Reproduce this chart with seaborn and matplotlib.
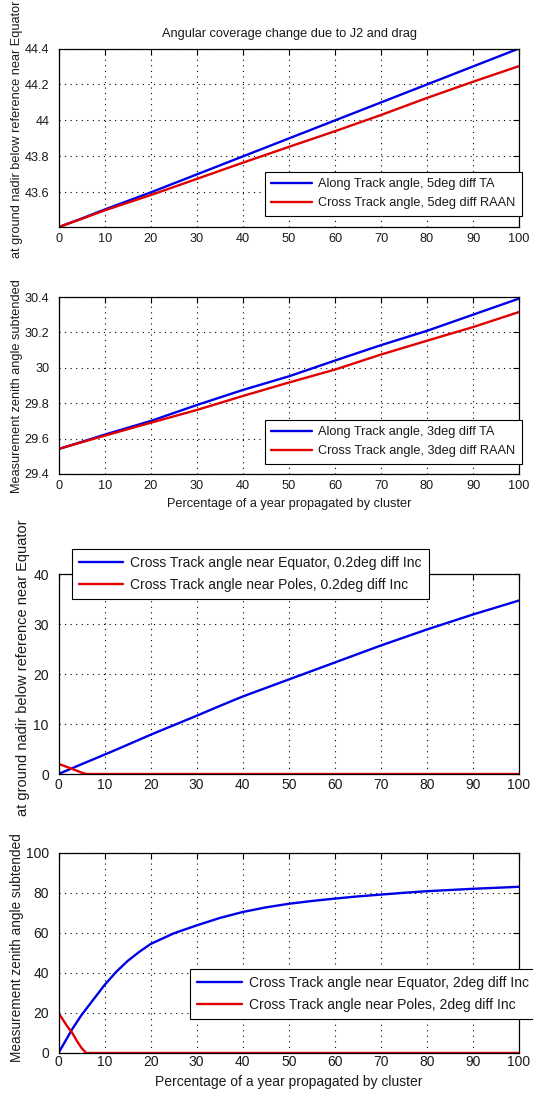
import matplotlib
matplotlib.use("Agg")
import matplotlib.pyplot as plt
import pandas as pd
import seaborn as sns
from matplotlib.ticker import FuncFormatter

# ---- Top figure: drift of along/cross track angles (sampled points) ----
pct_top = [0, 5, 10, 20, 30, 40, 50, 60, 70, 80, 90, 100]
along_5deg_ta = [43.407, 43.455, 43.505, 43.60, 43.70, 43.80, 43.90, 44.00, 44.10, 44.20, 44.30, 44.40]
cross_5deg_raan = [43.407, 43.453, 43.50, 43.585, 43.675, 43.765, 43.853, 43.94, 44.03, 44.125, 44.215, 44.302]
along_3deg_ta = [29.542, 29.582, 29.623, 29.70, 29.79, 29.875, 29.952, 30.041, 30.128, 30.209, 30.30, 30.391]
cross_3deg_raan = [29.542, 29.58, 29.617, 29.69, 29.762, 29.841, 29.917, 29.99, 30.075, 30.153, 30.23, 30.315]

# ---- Bottom figure: inclination-difference cases ----
pct_bot = [0, 1, 2, 3, 4, 5, 6, 8, 10, 12.5, 15, 17.5, 20, 25, 30, 35, 40, 45,
           50, 55, 60, 65, 70, 75, 80, 85, 90, 95, 100]
equator_02deg = [0, 0.39, 0.78, 1.17, 1.56, 1.95, 2.34, 3.1, 3.88, 4.85, 5.85, 6.85, 7.85,
                 9.75, 11.65, 13.6, 15.5, 17.2, 18.9, 20.6, 22.3, 24.0, 25.7, 27.3, 28.9,
                 30.4, 31.9, 33.3, 34.7]
poles_02deg = [2.0, 1.7, 1.35, 1.0, 0.65, 0.28, 0, 0, 0, 0, 0, 0, 0, 0, 0, 0, 0, 0,
               0, 0, 0, 0, 0, 0, 0, 0, 0, 0, 0]
equator_2deg = [0, 4, 8, 12, 15.5, 19, 22, 28, 34, 40.5, 46, 50.5, 54.5, 59.8, 63.8, 67.5,
                70.5, 72.8, 74.6, 76, 77.2, 78.3, 79.2, 80.1, 80.9, 81.5, 82.1, 82.6, 83.1]
poles_2deg = [20, 16.5, 13, 10, 6, 2.5, 0, 0, 0, 0, 0, 0, 0, 0, 0, 0, 0, 0,
              0, 0, 0, 0, 0, 0, 0, 0, 0, 0, 0]

xticks = list(range(0, 101, 10))
title = "Angular coverage change due to J2 and drag"
xlab = "Percentage of a year propagated by cluster"
ylab_a = "at ground nadir below reference near Equator"
ylab_b = "Measurement zenith angle subtended"

BLUE = "#0000e8"
RED = "#e00000"

W, H, DPI = 533, 1094, 100
sns.set_theme(style="white")
plt.rcParams["font.family"] = ["Liberation Sans", "DejaVu Sans"]
plt.rcParams["text.color"] = "#1a1a1a"

fig = plt.figure(figsize=(W / DPI, H / DPI), dpi=DPI)
fig.patch.set_facecolor("white")


def box(left, top, right, bottom):
    return [left / W, 1 - bottom / H, (right - left) / W, (bottom - top) / H]


def style(ax, ylim, yticks, fs, xpad):
    ax.set_xlim(0, 100)
    ax.set_ylim(*ylim)
    ax.set_xticks(xticks)
    ax.set_yticks(yticks)
    ax.yaxis.set_major_formatter(FuncFormatter(lambda v, _: f"{v:g}"))
    ax.xaxis.set_major_formatter(FuncFormatter(lambda v, _: f"{v:g}"))
    ax.grid(True, color="black", linestyle=(0, (1, 4)), linewidth=0.8)
    ax.set_axisbelow(True)
    ax.tick_params(direction="in", top=True, right=True, length=4, width=0.8,
                   color="black", labelcolor="#1a1a1a", labelsize=fs)
    ax.tick_params(axis="y", pad=7)
    ax.tick_params(axis="x", pad=xpad)
    for s in ax.spines.values():
        s.set_visible(True)
        s.set_color("black")
        s.set_linewidth(0.9)
    ax.set_xlabel("")
    ax.set_ylabel("")
    ax.set_facecolor("white")


def draw(ax, x, ys, labels):
    for y, lab, col in zip(ys, labels, [BLUE, RED]):
        df = pd.DataFrame({"pct": x, "angle": y})
        sns.lineplot(data=df, x="pct", y="angle", ax=ax, color=col,
                     linewidth=1.7, label=lab, sort=False)


def legend(ax, anchor, fs):
    leg = ax.legend(loc="upper left", bbox_to_anchor=anchor, borderaxespad=0,
                    frameon=True, fancybox=False, shadow=False, framealpha=1,
                    edgecolor="black", facecolor="white", fontsize=fs,
                    handlelength=3.2, handletextpad=0.5, borderpad=0.5,
                    labelspacing=0.55)
    leg.get_frame().set_linewidth(0.8)
    for line in leg.get_lines():
        line.set_linewidth(1.7)


FS_TOP = 9.2
FS_BOT = 10

# Panel 1
ax1 = fig.add_axes(box(59, 48.5, 519, 227))
draw(ax1, pct_top, [along_5deg_ta, cross_5deg_raan],
     ["Along Track angle, 5deg diff TA", "Cross Track angle, 5deg diff RAAN"])
style(ax1, (43.407, 44.4), [43.6, 43.8, 44.0, 44.2, 44.4], FS_TOP, 4)
legend(ax1, (0.447, 0.308), FS_TOP)

# Panel 2
ax2 = fig.add_axes(box(59, 297, 519, 474))
draw(ax2, pct_top, [along_3deg_ta, cross_3deg_raan],
     ["Along Track angle, 3deg diff TA", "Cross Track angle, 3deg diff RAAN"])
style(ax2, (29.4, 30.4), [29.4, 29.6, 29.8, 30.0, 30.2, 30.4], FS_TOP, 4)
legend(ax2, (0.447, 0.305), FS_TOP)

# Panel 3
ax3 = fig.add_axes(box(58.5, 574, 519, 774))
draw(ax3, pct_bot, [equator_02deg, poles_02deg],
     ["Cross Track angle near Equator, 0.2deg diff Inc",
      "Cross Track angle near Poles, 0.2deg diff Inc"])
style(ax3, (0, 40), [0, 10, 20, 30, 40], FS_BOT, 3)
legend(ax3, (0.029, 1.125), FS_BOT)

# Panel 4
ax4 = fig.add_axes(box(58.5, 853, 519, 1053))
draw(ax4, pct_bot, [equator_2deg, poles_2deg],
     ["Cross Track angle near Equator, 2deg diff Inc",
      "Cross Track angle near Poles, 2deg diff Inc"])
style(ax4, (0, 100), [0, 20, 40, 60, 80, 100], FS_BOT, 1.5)
legend(ax4, (0.286, 0.42), FS_BOT)

# Titles and axis captions
fig.text(289 / W, 1 - 34 / H, title, ha="center", va="center", fontsize=FS_TOP)
fig.text(289 / W, 1 - 504 / H, xlab, ha="center", va="center", fontsize=FS_TOP)
fig.text(289 / W, 1 - 1082 / H, xlab, ha="center", va="center", fontsize=FS_BOT)
fig.text(17 / W, 1 - 129 / H, ylab_a, ha="center", va="center", rotation=90, fontsize=FS_TOP)
fig.text(17 / W, 1 - 386.5 / H, ylab_b, ha="center", va="center", rotation=90, fontsize=FS_TOP)
fig.text(23 / W, 1 - 668 / H, ylab_a, ha="center", va="center", rotation=90, fontsize=10.5)
fig.text(17 / W, 1 - 947.5 / H, ylab_b, ha="center", va="center", rotation=90, fontsize=9.8)

fig.savefig("out.png", dpi=DPI, facecolor="white")
